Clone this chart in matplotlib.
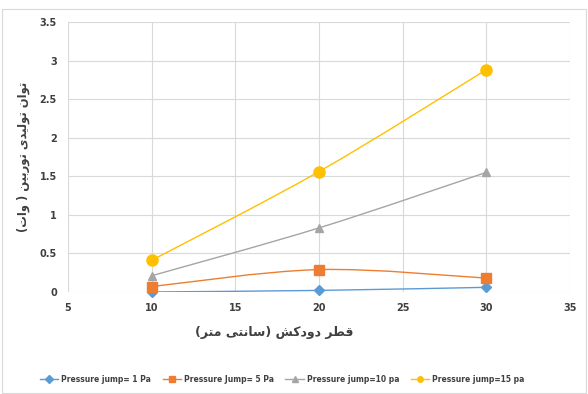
import matplotlib
matplotlib.use('Agg')
import matplotlib.pyplot as plt
from matplotlib.path import Path
from matplotlib.patches import PathPatch, Rectangle
from matplotlib.lines import Line2D

# chimney diameter (cm)
diameters = [10, 20, 30]
# turbine power (W) for each pressure jump
p_1pa = [0.0, 0.02, 0.06]
p_5pa = [0.07, 0.29, 0.18]
p_10pa = [0.21, 0.83, 1.55]
p_15pa = [0.41, 1.56, 2.88]

labels = ['Pressure jump= 1 Pa', 'Pressure Jump= 5 Pa',
          'Pressure jump=10 pa', 'Pressure jump=15 pa']
colors = ['#5B9BD5', '#ED7D31', '#A5A5A5', '#FFC000']
markers = ['D', 's', '^', 'o']
msizes = [5, 7, 6, 8]

# persian labels, pre-shaped (presentation forms, visual order)
# y: "توان تولیدی توربین ( وات)"   x: "قطر دودکش (سانتی متر)"
ylabel_txt = ('(\uFE95\uFE8D\uFEED )'
              ' \uFEE6\uFBFF\uFE91\uFEAD\uFEEE\uFE97'
              ' \uFBFC\uFEAA\uFBFF\uFEDF\uFEEE\uFE97'
              ' \uFEE5\uFE8D\uFEEE\uFE97')
xlabel_txt = ('(\uFEAE\uFE98\uFEE3 \uFBFD\uFE98\uFEE7\uFE8E\uFEB3)'
              ' \uFEB6\uFB90\uFEA9\uFEED\uFEA9'
              ' \uFEAE\uFEC4\uFED7')

FONT = ['Liberation Sans Narrow', 'DejaVu Sans']


def smooth_path(xs, ys):
  '''Excel-like smoothed line: catmull-rom as cubic beziers'''
  pts = list(zip(xs, ys))
  verts = [pts[0]]
  codes = [Path.MOVETO]
  n = len(pts)
  for i in range(n - 1):
    p0 = pts[i - 1] if i > 0 else pts[i]
    p1 = pts[i]
    p2 = pts[i + 1]
    p3 = pts[i + 2] if i + 2 < n else pts[i + 1]
    c1 = (p1[0] + (p2[0] - p0[0]) / 6, p1[1] + (p2[1] - p0[1]) / 6)
    c2 = (p2[0] - (p3[0] - p1[0]) / 6, p2[1] - (p3[1] - p1[1]) / 6)
    verts += [c1, c2, p2]
    codes += [Path.CURVE4] * 3
  return Path(verts, codes)


fig = plt.figure(figsize=(5.88, 3.94), dpi=100)
fig.patches.append(Rectangle((0.003, 0.003), 0.994, 0.975, transform=fig.transFigure,
                             fill=False, edgecolor='#D9D9D9', lw=0.8))
ax = fig.add_axes([0.1156, 0.259, 0.8534, 0.685])

series = [p_1pa, p_5pa, p_10pa, p_15pa]
handles = []
for vals, lab, c, m, ms in zip(series, labels, colors, markers, msizes):
  ax.add_patch(PathPatch(smooth_path(diameters, vals), fill=False,
                         edgecolor=c, lw=1.0, zorder=3))
  ax.plot(diameters, vals, linestyle='none', marker=m, markersize=ms,
          color=c, zorder=4, clip_on=False)
  handles.append(Line2D([], [], color=c, marker=m, markersize=4, lw=1.0))

ax.set_xlim(5, 35)
ax.set_ylim(0, 3.5)
ax.set_xticks([5, 10, 15, 20, 25, 30, 35])
ax.set_yticks([0, 0.5, 1, 1.5, 2, 2.5, 3, 3.5])
ax.set_yticklabels(['0', '0.5', '1', '1.5', '2', '2.5', '3', '3.5'])
ax.grid(True, color='#D9D9D9', lw=0.8)
ax.set_axisbelow(True)
for s in ax.spines.values():
  s.set_visible(False)
ax.tick_params(length=0, labelsize=7, labelcolor='#404040', pad=8)
for t in ax.get_xticklabels() + ax.get_yticklabels():
  t.set_family(FONT)
  t.set_fontweight('bold')

ax.set_xlabel(xlabel_txt, family=['DejaVu Sans'], fontsize=9,
              fontweight='bold', color='#404040')
ax.xaxis.set_label_coords(0.41, -0.125)
ax.set_ylabel(ylabel_txt, family=['DejaVu Sans'], fontsize=8.3,
              fontweight='bold', color='#404040')
ax.yaxis.set_label_coords(-0.075, 0.5)

leg = fig.legend(handles, labels, loc='center', bbox_to_anchor=(0.48, 0.038),
                 ncol=4, frameon=False,
                 prop={'family': FONT, 'size': 5.5, 'weight': 'bold'},
                 handlelength=2.4, columnspacing=1.5, handletextpad=0.4)
for t in leg.get_texts():
  t.set_color('#404040')

fig.savefig('out.png', dpi=100)
